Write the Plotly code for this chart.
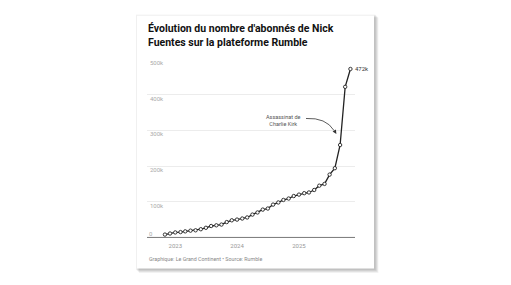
import plotly.graph_objects as go
import pandas as pd

# ---- data ----
dates = pd.date_range("2022-11-01", "2025-11-01", freq="MS").strftime("%Y-%m-%d").tolist()
subscribers = [8000, 11000, 14000, 15000, 17000, 19000, 20000, 23000, 27000, 32000,
               34000, 36000, 43000, 48000, 50000, 53000, 56000, 64000, 70000, 78000,
               81000, 92000, 98000, 105000, 109000, 116000, 120000, 124000, 126000, 133000,
               145000, 150000, 176000, 194000, 259000, 422000, 472000]
y_ticks = [0, 100000, 200000, 300000, 400000, 500000]
y_tick_labels = ["0", "100k", "200k", "300k", "400k", "500k"]
x_ticks = ["2023-01-01", "2024-01-01", "2025-01-01"]
x_tick_labels = ["2023", "2024", "2025"]
last_label = "472k"
event_date = "2025-08-10"
event_value = 290000
event_text = "Assassinat de<br>Charlie Kirk"

title = "<b>Évolution du nombre d'abonnés de Nick<br>Fuentes sur la plateforme Rumble</b>"
footer = "Graphique: Le Grand Continent • Source: Rumble"

W, H = 511, 285
Y_MIN, Y_MAX = -10000, 500000
L, R, T = 147, 355, 58.5
Y0_PX = 237  # pixel of value 0
B = Y0_PX + (0 - Y_MIN) / (Y_MAX - 0) * (Y0_PX - T)  # bottom of plot area


def px(xp):
    return (xp - L) / (R - L)


def py(yp):
    return (B - yp) / (B - T)


fig = go.Figure()
fig.add_trace(go.Scatter(
    x=dates, y=subscribers, mode="lines+markers",
    line=dict(color="#222222", width=1.3),
    marker=dict(size=3.4, color="white", line=dict(color="#222222", width=0.9)),
    cliponaxis=False, hoverinfo="skip",
))

shapes = []
# card shadow
for i in range(6):
    shapes.append(dict(type="rect", xref="paper", yref="paper", layer="below",
                       x0=px(137 - 1 + i * 0.6), x1=px(374 + 1.5 + i * 0.6),
                       y0=py(268 + 1.5 + i * 0.6), y1=py(15 - 1 + i * 0.6),
                       fillcolor="rgba(0,0,0,0.045)", line=dict(width=0)))
shapes.append(dict(type="rect", xref="paper", yref="paper", layer="below",
                   x0=px(137), x1=px(374), y0=py(268), y1=py(15),
                   fillcolor="white", line=dict(width=0)))
# curved annotation arrow
shapes.append(dict(type="path", xref="paper", yref="paper",
                   path=f"M {px(306)},{py(118)} Q {px(326)},{py(117)} {px(334)},{py(130)}",
                   line=dict(color="#333333", width=0.8)))
# baseline
shapes.append(dict(type="line", xref="paper", yref="y", x0=0, x1=1, y0=0, y1=0,
                   line=dict(color="#777777", width=1), layer="below"))

annotations = [
    dict(text=title, xref="paper", yref="paper", x=px(146), y=py(19), xanchor="left", yanchor="top",
         align="left", showarrow=False, font=dict(family="Roboto", size=10.5, color="#111111")),
    dict(text=footer, xref="paper", yref="paper", x=px(147), y=py(259), xanchor="left", yanchor="middle",
         showarrow=False, font=dict(family="Roboto", size=5.3, color="#888888")),
    dict(text=last_label, x=dates[-1], y=subscribers[-1], xanchor="left", yanchor="middle",
         xshift=3, showarrow=False, font=dict(family="Roboto", size=6, color="#333333")),
    dict(text=event_text, xref="paper", yref="paper", x=px(303), y=py(120), xanchor="right",
         yanchor="middle", align="center", showarrow=False,
         font=dict(family="Roboto", size=5.5, color="#555555")),
    dict(text="", x=event_date, y=event_value, ax=-2.5, ay=-4, showarrow=True, arrowhead=2,
         arrowsize=1, arrowwidth=0.8, arrowcolor="#333333", standoff=0),
    # bottom y tick label (the axis hides an inside label sitting on the range edge)
    dict(text=y_tick_labels[0], xref="paper", yref="y", x=0, y=y_ticks[0], xanchor="left",
         yanchor="middle", yshift=4, showarrow=False, font=dict(family="Roboto", size=6, color="#aaaaaa")),
]

fig.update_layout(
    width=W, height=H,
    margin=dict(l=L, r=W - R, t=T, b=H - B),
    paper_bgcolor="white", plot_bgcolor="rgba(0,0,0,0)",
    showlegend=False, shapes=shapes, annotations=annotations,
    font=dict(family="Roboto"),
)
fig.update_xaxes(
    type="date", range=["2022-07-18", "2025-11-28"],
    tickvals=x_ticks, ticktext=x_tick_labels, showgrid=False, zeroline=False,
    showline=False, ticks="", tickfont=dict(size=6, color="#999999"), ticklabelstandoff=0,
)
fig.update_yaxes(
    range=[Y_MIN, Y_MAX], tickvals=y_ticks[1:], ticktext=y_tick_labels[1:],
    showgrid=True, gridcolor="#ececec", gridwidth=1, zeroline=False, showline=False,
    ticks="", ticklabelposition="inside", ticklabelshift=4, ticklabelstandoff=0,
    tickfont=dict(size=6, color="#aaaaaa"),
)

fig.write_html("out.html")
